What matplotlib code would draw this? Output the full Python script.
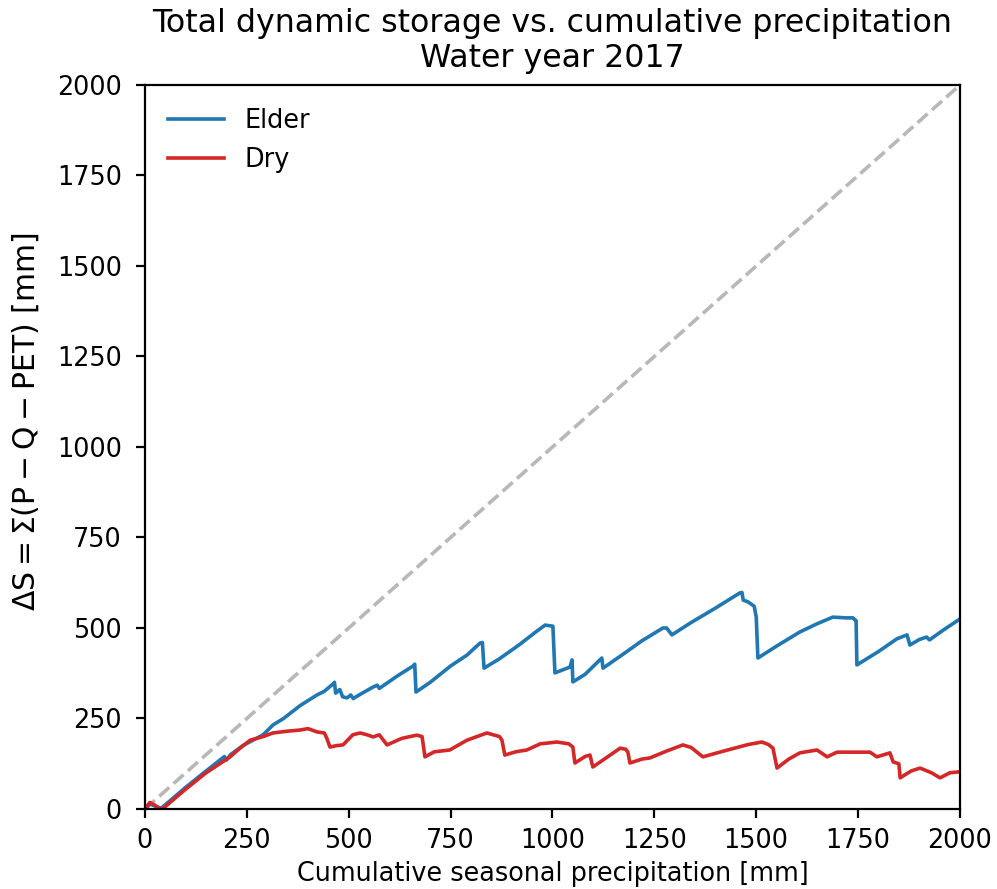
import matplotlib
matplotlib.use("Agg")
import matplotlib.pyplot as plt

# Cumulative seasonal precipitation [mm] and storage change [mm]
elder_p = [0, 12, 25, 40, 100, 150, 195, 200, 210, 240, 265, 290, 314, 340, 380, 422, 440, 461, 465,
           468, 478, 485, 496, 505, 511, 530, 560, 570, 575, 584, 620, 658, 662, 665, 700, 750, 790,
           822, 828, 832, 870, 920, 960, 982, 1001, 1006, 1043, 1048, 1050, 1080, 1121, 1124, 1170,
           1220, 1271, 1280, 1293, 1340, 1400, 1460, 1465, 1468, 1480, 1495, 1500, 1504, 1550, 1607,
           1650, 1688, 1720, 1737, 1745, 1747, 1800, 1845, 1870, 1877, 1900, 1918, 1925, 1960, 2000]
elder_s = [0, 14, 8, 2, 60, 105, 145, 135, 150, 175, 190, 205, 232, 250, 285, 315, 325, 345, 350,
           320, 330, 310, 307, 315, 305, 318, 337, 342, 333, 340, 368, 395, 400, 323, 350, 395, 425,
           458, 460, 389, 415, 455, 490, 508, 505, 376, 392, 412, 351, 372, 417, 389, 425,
           465, 500, 500, 481, 515, 555, 597, 598, 577, 572, 560, 530, 417, 450, 489,
           512, 530, 528, 528, 520, 398, 435, 470, 481, 453, 468, 475, 467, 495, 525]

dry_p = [0, 12, 25, 35, 45, 100, 150, 209, 230, 258, 290, 314, 350, 380, 400, 422, 440, 446, 454,
         470, 486, 510, 528, 545, 560, 575, 594, 630, 667, 680, 687, 710, 748, 790, 839, 870, 876,
         883, 910, 937, 970, 1011, 1040, 1050, 1055, 1080, 1092, 1099, 1130, 1166, 1180, 1185, 1190,
         1220, 1239, 1280, 1320, 1340, 1369, 1420, 1480, 1514, 1530, 1541, 1551, 1580, 1607, 1649,
         1674, 1698, 1740, 1779, 1796, 1828, 1836, 1850, 1853, 1880, 1902, 1930, 1951, 1975, 2000]
dry_s = [0, 18, 10, 0, 2, 55, 100, 144, 165, 190, 200, 210, 215, 218, 222, 213, 210, 196, 171,
         175, 177, 205, 210, 205, 199, 205, 177, 195, 204, 200, 144, 158, 163, 190, 210, 200, 190,
         149, 158, 163, 180, 185, 180, 171, 127, 145, 149, 116, 140, 168, 165, 157, 127,
         138, 141, 160, 177, 170, 144, 160, 178, 185, 178, 168, 113, 138, 155, 163,
         144, 157, 157, 157, 144, 155, 130, 125, 86, 105, 113, 100, 86, 100, 103]

axis_range = [0, 2000]
ticks = [0, 250, 500, 750, 1000, 1250, 1500, 1750, 2000]

plt.rcParams.update({
    "font.family": "DejaVu Sans",
    "font.size": 18.4,
    "mathtext.default": "regular",
    "axes.linewidth": 1.6,
    "xtick.major.size": 6.5,
    "ytick.major.size": 6.5,
    "xtick.major.width": 1.6,
    "ytick.major.width": 1.6,
    "xtick.major.pad": 7.5,
    "ytick.major.pad": 10,
})

fig = plt.figure(figsize=(9.97, 8.89), dpi=100)
ax = fig.add_axes([0.1454, 0.09, 0.8175, 0.8144])

ax.plot(axis_range, axis_range, linestyle="--", color="0.72", linewidth=2.6)
ax.plot(elder_p, elder_s, color="#1f77b4", linewidth=2.6, label="Elder")
ax.plot(dry_p, dry_s, color="#d62728", linewidth=2.6, label="Dry")

ax.set_xlim(axis_range)
ax.set_ylim(axis_range)
ax.set_xticks(ticks)
ax.set_yticks(ticks)
ax.set_xlabel("Cumulative seasonal precipitation [mm]", fontsize=18.4, labelpad=5)
ax.set_ylabel(r"$\Delta S = \Sigma(P - Q - PET)$ [mm]", fontsize=21.5)
ax.yaxis.set_label_coords(-0.128, 0.535)
ax.set_title("Total dynamic storage vs. cumulative precipitation\nWater year 2017",
             fontsize=22.8, pad=13, linespacing=1.15)
ax.legend(loc="upper left", frameon=False, handlelength=2.2, borderaxespad=0.5)

fig.savefig("out.png", dpi=100)
